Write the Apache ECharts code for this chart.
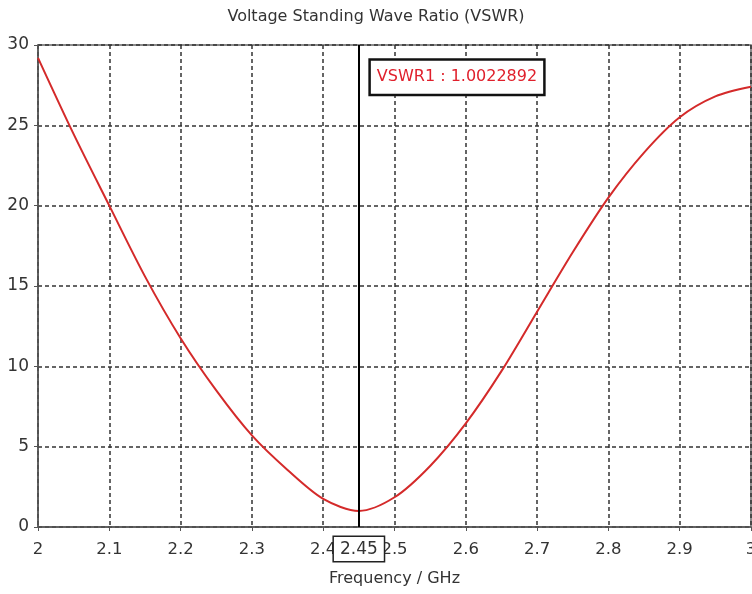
<!DOCTYPE html>
<html><head><meta charset="utf-8">
<script src="https://cdn.jsdelivr.net/npm/echarts@6/dist/echarts.min.js"></script>
<style>html,body{margin:0;padding:0;background:#fff}#c{width:752px;height:594px}</style>
</head><body><div id="c"></div>
<script>
const freq = [2.00,2.05,2.10,2.15,2.20,2.25,2.30,2.35,2.40,2.45,2.50,2.55,2.60,2.65,2.70,2.75,2.80,2.85,2.90,2.95,3.00];
const vswr = [29.2,24.45,20.0,15.6,11.75,8.5,5.7,3.55,1.75,1.0,1.85,3.8,6.45,9.7,13.4,17.1,20.5,23.3,25.5,26.8,27.4];
const markerFreq = 2.45;
const markerText = 'VSWR1 : 1.0022892';
const markerY = 28;
const font = 'DejaVu Sans';
const chart = echarts.init(document.getElementById('c'));
chart.setOption({
  animation: false,
  title: {text: 'Voltage Standing Wave Ratio (VSWR)', left: 'center', top: 4,
    textStyle: {fontFamily: font, fontSize: 16, fontWeight: 'normal', color: '#333'}},
  grid: {left: 38, right: 1, top: 45, bottom: 67, show: true, borderColor: '#666', borderWidth: 1.5,
    outerBoundsMode: 'none', containLabel: false},
  xAxis: {type: 'value', min: 2, max: 3, interval: 0.1,
    name: 'Frequency / GHz', nameLocation: 'middle', nameGap: 44,
    nameTextStyle: {fontFamily: font, fontSize: 16, color: '#333'},
    axisLine: {lineStyle: {color: '#555', width: 1.5}},
    axisTick: {show: true, length: 4, lineStyle: {color: '#555'}},
    axisLabel: {fontFamily: font, fontSize: 16.5, color: '#333', margin: 14},
    splitLine: {show: true, lineStyle: {type: [4, 3], color: '#333', width: 1.5}}},
  yAxis: {type: 'value', min: 0, max: 30, interval: 5,
    axisLine: {show: true, lineStyle: {color: '#555', width: 1.5}},
    axisTick: {show: true, length: 4, lineStyle: {color: '#555'}},
    axisLabel: {fontFamily: font, fontSize: 17, color: '#333', margin: 9},
    splitLine: {show: true, lineStyle: {type: [4, 3], color: '#333', width: 1.5}}},
  series: [{
    type: 'line', data: freq.map((f, i) => [f, vswr[i]]), smooth: 0.3, showSymbol: false,
    lineStyle: {color: '#d42a2a', width: 2},
    markLine: {silent: true, symbol: 'none', animation: false,
      lineStyle: {color: '#000', width: 2, type: 'solid'},
      label: {show: true, position: 'start', formatter: String(markerFreq), distance: 10,
        fontFamily: font, fontSize: 17, color: '#333', backgroundColor: '#fff',
        borderColor: '#222', borderWidth: 1.5, padding: [4, 6, 3, 6]},
      data: [{xAxis: markerFreq}]},
    markPoint: {symbol: 'circle', symbolSize: 0, silent: true,
      label: {show: true, position: 'right', distance: 12, formatter: markerText,
        fontFamily: font, fontSize: 16, color: '#e0202c', backgroundColor: '#fff',
        borderColor: '#111', borderWidth: 2.5, padding: [9, 6, 8, 6]},
      data: [{coord: [markerFreq, markerY]}]}
  }]
});
</script></body></html>
